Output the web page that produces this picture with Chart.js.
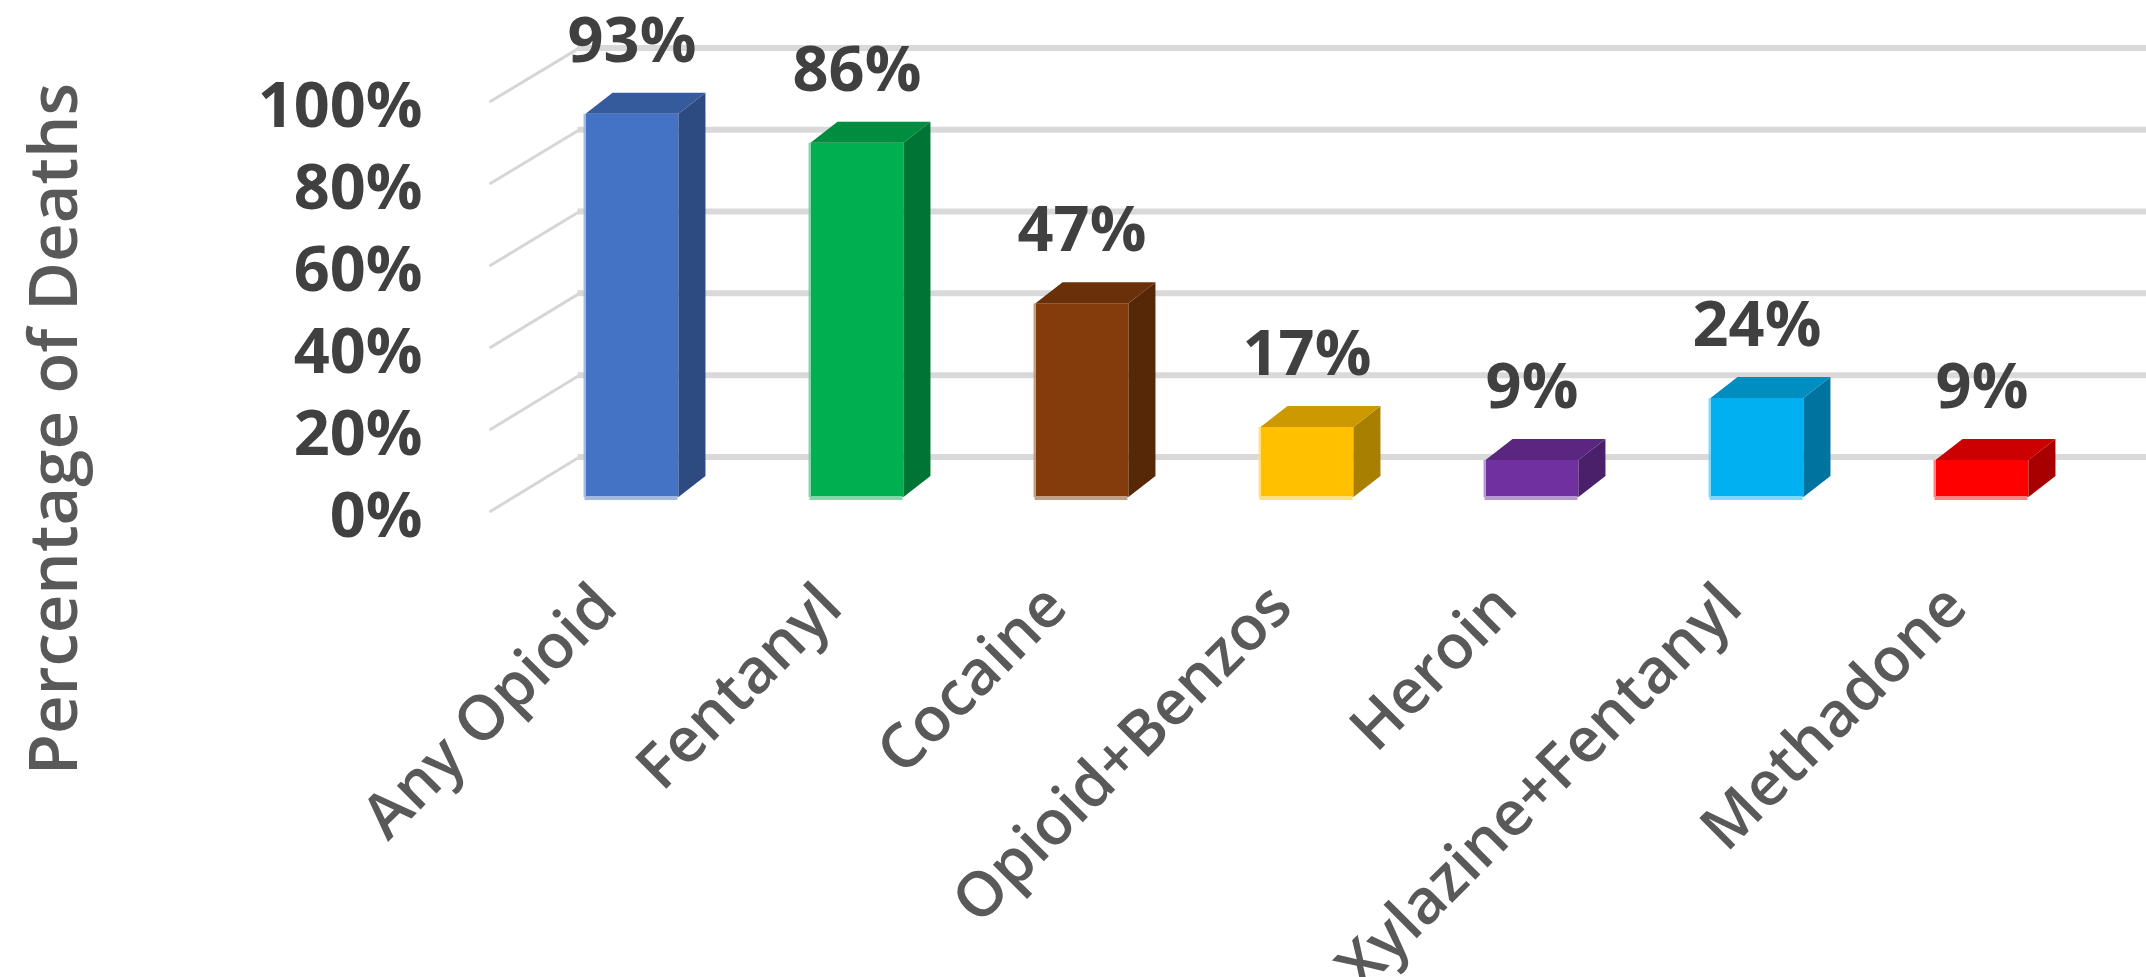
<!DOCTYPE html>
<html>
<head>
<meta charset="utf-8">
<script src="https://cdn.jsdelivr.net/npm/chart.js@4.4.1/dist/chart.umd.min.js"></script>
<style>
  html, body { margin: 0; padding: 0; background: #ffffff; }
  #wrap { width: 2146px; height: 977px; }
</style>
</head>
<body>
<div id="wrap"><canvas id="chart" width="2146" height="977"></canvas></div>
<script>
// Share of overdose deaths involving each substance
const categories = ['Any Opioid', 'Fentanyl', 'Cocaine', 'Opioid+Benzos', 'Heroin', 'Xylazine+Fentanyl', 'Methadone'];
const deathShares = [93, 86, 47, 17, 9, 24, 9];
const barColors = ['#4472C4', '#00B050', '#843C0C', '#FFC000', '#7030A0', '#00B0F0', '#FF0000'];
const tickValues = [0, 20, 40, 60, 80, 100];
const tickLabels = tickValues.map(v => v + '%');
const axisTitle = 'Percentage of Deaths';

// darken / lighten a hex colour
function shade(hex, f) {
  const n = parseInt(hex.slice(1), 16);
  let r = (n >> 16) & 255, g = (n >> 8) & 255, b = n & 255;
  if (f <= 1) { r *= f; g *= f; b *= f; }
  else { const t = f - 1; r += (255 - r) * t; g += (255 - g) * t; b += (255 - b) * t; }
  return 'rgb(' + Math.round(r) + ',' + Math.round(g) + ',' + Math.round(b) + ')';
}

const FONT = '"Open Sans", "DejaVu Sans", sans-serif';
const depth = { dx: 27, dy: -21 };

// walls, gridlines, axis labels and the 3D faces of the columns
const pseudo3d = {
  id: 'pseudo3d',
  beforeDatasetsDraw(chart) {
    const { ctx, chartArea, scales: { y } } = chart;
    const frontX = chartArea.left - 30;
    const backX = chartArea.left + 60;
    ctx.save();
    tickValues.forEach((v, i) => {
      const p = y.getPixelForValue(v) - y.bottom;
      const yBack = y.bottom - 40 + p * 0.993;
      const yFront = y.bottom + 15 + p * 0.995;
      ctx.strokeStyle = '#d6d6d6';
      ctx.lineCap = 'butt';
      ctx.lineWidth = 3;
      ctx.beginPath();
      ctx.moveTo(frontX, yFront);
      ctx.lineTo(backX, yBack);
      ctx.stroke();
      ctx.strokeStyle = '#d9d9d9';
      ctx.lineWidth = 6;
      ctx.beginPath();
      ctx.moveTo(backX - 2, yBack);
      ctx.lineTo(chart.width, yBack);
      ctx.stroke();
      ctx.fillStyle = '#404040';
      ctx.font = 'bold 63px ' + FONT;
      ctx.textAlign = 'right';
      ctx.textBaseline = 'alphabetic';
      ctx.fillText(tickLabels[i], chartArea.left - 97, yFront + 25);
    });
    // vertical axis title
    ctx.translate(77, 429);
    ctx.rotate(-Math.PI / 2);
    ctx.fillStyle = '#595959';
    ctx.font = '600 67px ' + FONT;
    ctx.textAlign = 'center';
    ctx.textBaseline = 'alphabetic';
    ctx.fillText(axisTitle, 0, 0);
    ctx.restore();
  },
  afterDatasetsDraw(chart) {
    const { ctx, scales: { x, y } } = chart;
    const meta = chart.getDatasetMeta(0);
    ctx.save();
    meta.data.forEach((bar, i) => {
      const { x: cx, y: top, base, width } = bar.getProps(['x', 'y', 'base', 'width'], true);
      const x1 = cx - width / 2, x2 = cx + width / 2;
      const c = barColors[i];
      // light rim along the bottom and left of the front face
      ctx.fillStyle = shade(c, 1.5);
      ctx.fillRect(x1 - 1, base - 1, width, 4);
      ctx.fillRect(x1 - 2, top, 2, base - top);
      // side face
      ctx.fillStyle = shade(c, 0.66);
      ctx.beginPath();
      ctx.moveTo(x2, top);
      ctx.lineTo(x2 + depth.dx, top + depth.dy);
      ctx.lineTo(x2 + depth.dx, base + depth.dy);
      ctx.lineTo(x2, base);
      ctx.closePath();
      ctx.fill();
      // top face
      ctx.fillStyle = shade(c, 0.8);
      ctx.beginPath();
      ctx.moveTo(x1, top);
      ctx.lineTo(x1 + depth.dx, top + depth.dy);
      ctx.lineTo(x2 + depth.dx, top + depth.dy);
      ctx.lineTo(x2, top);
      ctx.closePath();
      ctx.fill();
      // value label
      ctx.fillStyle = '#404040';
      ctx.font = 'bold 63px ' + FONT;
      ctx.textAlign = 'center';
      ctx.textBaseline = 'alphabetic';
      ctx.fillText(deathShares[i] + '%', cx, top - 52);
    });
    // category labels, slanted
    ctx.fillStyle = '#595959';
    ctx.font = '600 62px ' + FONT;
    ctx.textAlign = 'right';
    ctx.textBaseline = 'alphabetic';
    categories.forEach((label, i) => {
      const px = x.getPixelForValue(i);
      ctx.save();
      ctx.translate(px - 12, y.bottom + 113);
      ctx.rotate(-Math.PI / 4);
      ctx.fillText(label, 0, 0);
      ctx.restore();
    });
    ctx.restore();
  }
};

new Chart(document.getElementById('chart'), {
  type: 'bar',
  data: {
    labels: categories,
    datasets: [{
      data: deathShares,
      backgroundColor: barColors,
      borderWidth: 0,
      barPercentage: 0.413,
      categoryPercentage: 1.0
    }]
  },
  options: {
    responsive: false,
    devicePixelRatio: 1,
    animation: false,
    layout: { padding: { left: 519.5, right: 51.5, top: 85, bottom: 480 } },
    plugins: { legend: { display: false }, tooltip: { enabled: false } },
    scales: {
      x: { display: false },
      y: { display: false, min: 0, max: 100, ticks: { stepSize: 20 } }
    }
  },
  plugins: [pseudo3d]
});
</script>
</body>
</html>
